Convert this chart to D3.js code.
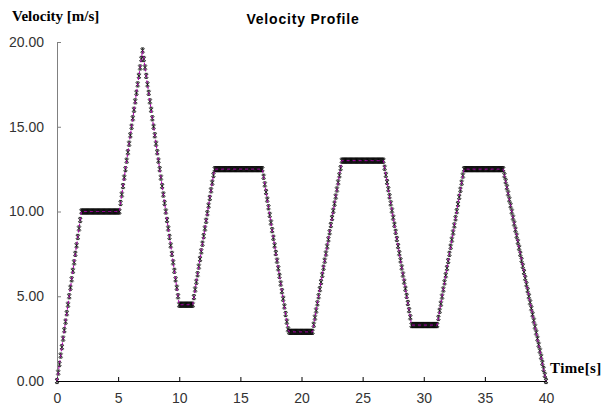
<!DOCTYPE html>
<html><head><meta charset="utf-8">
<script src="https://cdn.jsdelivr.net/npm/d3@7"></script>
<style>
html,body{margin:0;padding:0;background:#fff;}
svg{display:block;}
</style></head>
<body>
<svg id="chart" width="601" height="415"></svg>
<script>
const title = "Velocity Profile";
const yAxisTitle = "Velocity [m/s]";
const xAxisTitle = "Time[s]";
const xTicks = [0, 5, 10, 15, 20, 25, 30, 35, 40];
const yTicks = [0, 5, 10, 15, 20];

const time = [
0.0,0.1,0.2,0.3,0.4,0.5,0.6,0.7,0.8,0.9,
1.0,1.1,1.2,1.3,1.4,1.5,1.6,1.7,1.8,1.9,
2.0,2.1,2.2,2.3,2.4,2.5,2.6,2.7,2.8,2.9,
3.0,3.1,3.2,3.3,3.4,3.5,3.6,3.7,3.8,3.9,
4.0,4.1,4.2,4.3,4.4,4.5,4.6,4.7,4.8,4.9,
5.0,5.1,5.2,5.3,5.4,5.5,5.6,5.7,5.8,5.9,
6.0,6.1,6.2,6.3,6.4,6.5,6.6,6.7,6.8,6.9,
7.0,7.1,7.2,7.3,7.4,7.5,7.6,7.7,7.8,7.9,
8.0,8.1,8.2,8.3,8.4,8.5,8.6,8.7,8.8,8.9,
9.0,9.1,9.2,9.3,9.4,9.5,9.6,9.7,9.8,9.9,
10.0,10.1,10.2,10.3,10.4,10.5,10.6,10.7,10.8,10.9,
11.0,11.1,11.2,11.3,11.4,11.5,11.6,11.7,11.8,11.9,
12.0,12.1,12.2,12.3,12.4,12.5,12.6,12.7,12.8,12.9,
13.0,13.1,13.2,13.3,13.4,13.5,13.6,13.7,13.8,13.9,
14.0,14.1,14.2,14.3,14.4,14.5,14.6,14.7,14.8,14.9,
15.0,15.1,15.2,15.3,15.4,15.5,15.6,15.7,15.8,15.9,
16.0,16.1,16.2,16.3,16.4,16.5,16.6,16.7,16.8,16.9,
17.0,17.1,17.2,17.3,17.4,17.5,17.6,17.7,17.8,17.9,
18.0,18.1,18.2,18.3,18.4,18.5,18.6,18.7,18.8,18.9,
19.0,19.1,19.2,19.3,19.4,19.5,19.6,19.7,19.8,19.9,
20.0,20.1,20.2,20.3,20.4,20.5,20.6,20.7,20.8,20.9,
21.0,21.1,21.2,21.3,21.4,21.5,21.6,21.7,21.8,21.9,
22.0,22.1,22.2,22.3,22.4,22.5,22.6,22.7,22.8,22.9,
23.0,23.1,23.2,23.3,23.4,23.5,23.6,23.7,23.8,23.9,
24.0,24.1,24.2,24.3,24.4,24.5,24.6,24.7,24.8,24.9,
25.0,25.1,25.2,25.3,25.4,25.5,25.6,25.7,25.8,25.9,
26.0,26.1,26.2,26.3,26.4,26.5,26.6,26.7,26.8,26.9,
27.0,27.1,27.2,27.3,27.4,27.5,27.6,27.7,27.8,27.9,
28.0,28.1,28.2,28.3,28.4,28.5,28.6,28.7,28.8,28.9,
29.0,29.1,29.2,29.3,29.4,29.5,29.6,29.7,29.8,29.9,
30.0,30.1,30.2,30.3,30.4,30.5,30.6,30.7,30.8,30.9,
31.0,31.1,31.2,31.3,31.4,31.5,31.6,31.7,31.8,31.9,
32.0,32.1,32.2,32.3,32.4,32.5,32.6,32.7,32.8,32.9,
33.0,33.1,33.2,33.3,33.4,33.5,33.6,33.7,33.8,33.9,
34.0,34.1,34.2,34.3,34.4,34.5,34.6,34.7,34.8,34.9,
35.0,35.1,35.2,35.3,35.4,35.5,35.6,35.7,35.8,35.9,
36.0,36.1,36.2,36.3,36.4,36.5,36.6,36.7,36.8,36.9,
37.0,37.1,37.2,37.3,37.4,37.5,37.6,37.7,37.8,37.9,
38.0,38.1,38.2,38.3,38.4,38.5,38.6,38.7,38.8,38.9,
39.0,39.1,39.2,39.3,39.4,39.5,39.6,39.7,39.8,39.9,
40.0
];

const velocity = [
0,0.5,1,1.5,2,2.5,3,3.5,4,4.5,5,5.5,6,6.5,7,7.5,8,8.5,9,9.5,10,
10,10,10,10,10,10,10,10,10,10,10,10,10,10,10,10,10,10,10,10,10,10,10,10,10,10,10,10,10,10,10,
10.5,11,11.5,12,12.5,13,13.5,14,14.5,15,15.5,16,16.5,17,17.5,18,18.5,19,19.5,
19,18.5,18,17.5,17,16.5,16,15.5,15,14.5,14,13.5,13,12.5,12,11.5,11,10.5,10,9.5,9,8.5,8,7.5,7,6.5,6,5.5,5,4.5,
4.5,4.5,4.5,4.5,4.5,4.5,4.5,4.5,4.5,4.5,4.5,
4.95,5.4,5.85,6.3,6.75,7.2,7.65,8.1,8.55,9,9.45,9.9,10.35,10.8,11.25,11.7,12.15,12.5,
12.5,12.5,12.5,12.5,12.5,12.5,12.5,12.5,12.5,12.5,12.5,12.5,12.5,12.5,12.5,12.5,12.5,12.5,12.5,12.5,
12.5,12.5,12.5,12.5,12.5,12.5,12.5,12.5,12.5,12.5,12.5,12.5,12.5,12.5,12.5,12.5,12.5,12.5,12.5,
12.05,11.6,11.15,10.7,10.25,9.8,9.35,8.9,8.45,8,7.55,7.1,6.65,6.2,5.75,5.3,4.85,4.4,3.95,3.5,3.05,2.9,
2.9,2.9,2.9,2.9,2.9,2.9,2.9,2.9,2.9,2.9,2.9,2.9,2.9,2.9,2.9,2.9,2.9,2.9,2.9,
3.32,3.74,4.16,4.58,5,5.42,5.84,6.26,6.68,7.1,7.52,7.94,8.36,8.78,9.2,9.62,10.04,10.46,10.88,11.3,11.72,12.14,12.56,13,
13,13,13,13,13,13,13,13,13,13,13,13,13,13,13,13,13,13,13,13,13,13,13,13,13,13,13,13,13,13,13,13,13,13,
12.58,12.16,11.74,11.32,10.9,10.48,10.06,9.64,9.22,8.8,8.38,7.96,7.54,7.12,6.7,6.28,5.86,5.44,5.02,4.6,4.18,3.76,3.3,
3.3,3.3,3.3,3.3,3.3,3.3,3.3,3.3,3.3,3.3,3.3,3.3,3.3,3.3,3.3,3.3,3.3,3.3,3.3,3.3,3.3,
3.72,4.14,4.56,4.98,5.4,5.82,6.24,6.66,7.08,7.5,7.92,8.34,8.76,9.18,9.6,10.02,10.44,10.86,11.28,11.7,12.12,12.5,
12.5,12.5,12.5,12.5,12.5,12.5,12.5,12.5,12.5,12.5,12.5,12.5,12.5,12.5,12.5,12.5,
12.5,12.5,12.5,12.5,12.5,12.5,12.5,12.5,12.5,12.5,12.5,12.5,12.5,12.5,12.5,12.5,
12.14,11.79,11.43,11.07,10.71,10.36,10,9.64,9.29,8.93,8.57,8.21,7.86,7.5,7.14,6.79,6.43,6.07,5.71,5.36,
5,4.64,4.29,3.93,3.57,3.21,2.86,2.5,2.14,1.79,1.43,1.07,0.71,0.36,0
];

const data = time.map((t, i) => ({t: t, v: velocity[i]}));

const svg = d3.select("#chart");
const x = d3.scaleLinear().domain([0, 40]).range([57, 546]);
const y = d3.scaleLinear().domain([0, 20]).range([381, 42]);

// title
svg.append("text").attr("x", 303).attr("y", 24).attr("text-anchor", "middle")
  .attr("font-family", "Liberation Sans, Arial, sans-serif").attr("font-weight", "bold")
  .attr("font-size", 14).attr("letter-spacing", 0.8).attr("fill", "#000").text(title);

svg.append("text").attr("x", 12).attr("y", 21)
  .attr("font-family", "Liberation Serif, Times New Roman, serif").attr("font-weight", "bold")
  .attr("font-size", 15).attr("fill", "#000").text(yAxisTitle);

svg.append("text").attr("x", 550).attr("y", 373)
  .attr("font-family", "Liberation Serif, Times New Roman, serif").attr("font-weight", "bold")
  .attr("font-size", 15).attr("letter-spacing", 0.4).attr("fill", "#000").text(xAxisTitle);

// y axis
const yAxis = svg.append("g").attr("transform", "translate(57,0)")
  .call(d3.axisLeft(y).tickValues(yTicks).tickFormat(d3.format(".2f"))
    .tickSizeInner(-4).tickSizeOuter(0).tickPadding(13));
yAxis.select(".domain").attr("stroke", "#808080");
yAxis.selectAll(".tick line").attr("stroke", "#808080");
yAxis.selectAll("text").attr("font-family", "Liberation Sans, Arial, sans-serif")
  .attr("font-size", 14).attr("fill", "#333");

// x axis
const xAxis = svg.append("g").attr("transform", "translate(0,381)")
  .call(d3.axisBottom(x).tickValues(xTicks).tickFormat(d3.format("d"))
    .tickSizeInner(-4).tickSizeOuter(0).tickPadding(12));
xAxis.select(".domain").attr("stroke", "#000");
xAxis.selectAll(".tick line").attr("stroke", "#000");
xAxis.selectAll("text").attr("font-family", "Liberation Sans, Arial, sans-serif")
  .attr("font-size", 14).attr("fill", "#333");

// star markers
const star = "M-2,-2L2,2M-2,2L2,-2M0,-2.5L0,2.5M-1.5,-2.5L1.5,-2.5M-1.5,2.5L1.5,2.5";
const mk = svg.append("g");
mk.selectAll("path.halo").data(data).enter().append("path").attr("class", "halo")
  .attr("transform", d => `translate(${x(d.t)},${y(d.v)})`)
  .attr("d", star).attr("fill", "none").attr("stroke", "#c4c4c4").attr("stroke-width", 1.4);
mk.selectAll("path.star").data(data).enter().append("path").attr("class", "star")
  .attr("transform", d => `translate(${x(d.t)},${y(d.v)})`)
  .attr("d", star).attr("fill", "none").attr("stroke", "#000").attr("stroke-width", 0.7);

// line on top
const line = d3.line().x(d => x(d.t)).y(d => y(d.v));
svg.append("path").datum(data).attr("d", line)
  .attr("fill", "none").attr("stroke", "#b000b0").attr("stroke-width", 1)
  .attr("stroke-dasharray", "3,3");
</script>
</body></html>
